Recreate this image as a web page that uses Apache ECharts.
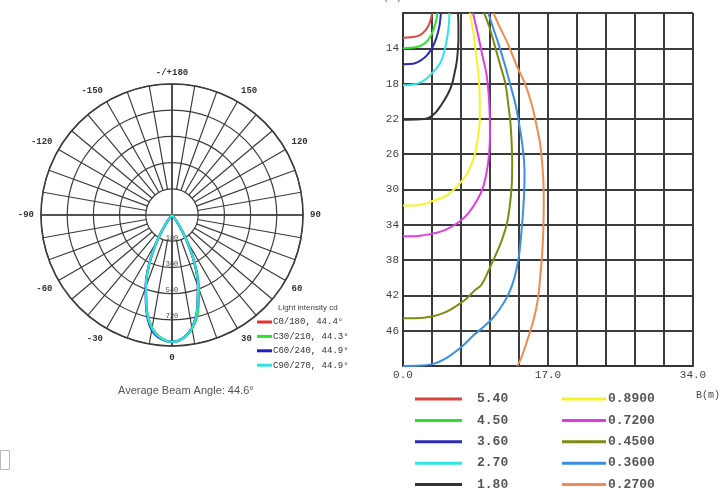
<!DOCTYPE html>
<html><head><meta charset="utf-8">
<script src="https://cdn.jsdelivr.net/npm/echarts@6/dist/echarts.min.js"></script>
<style>html,body{margin:0;padding:0;background:#fff}#c{width:725px;height:495px}</style>
</head><body><div id="c"></div>
<script>
// ---------- Polar (light intensity, cd) ----------
const polarAngles = [315,320,325,330,335,340,345,350,355,0,5,10,15,20,25,30,35,40,45];
const polarNames = ['C0/180, 44.4°','C30/210, 44.3°','C60/240, 44.9°','C90/270, 44.9°'];
const c0_180  = [0,9,70,201,366,523,671,789,850,872,850,789,671,523,366,201,70,9,0];
const c30_210 = [0,8,68,198,362,520,668,786,848,871,852,795,690,545,378,206,72,10,0];
const c60_240 = [0,10,74,207,372,530,680,802,856,872,849,786,668,520,364,200,69,9,0];
const c90_270 = [0,9,70,203,368,525,673,791,851,872,850,789,671,523,366,201,70,9,0];
const radiusMax = 900, radiusStep = 180;

// ---------- Isolux chart ----------
const isoLevels = ['5.40','4.50','3.60','2.70','1.80','0.8900','0.7200','0.4500','0.3600','0.2700'];
const iso540 = [[0,12.8],[1,12.75],[2,12.5],[2.6,12.0],[3.0,11.4],[3.3,10.6],[3.4,10]];
const iso450 = [[0,14.0],[1,13.95],[1.8,13.8],[2.6,13.4],[3.2,12.7],[3.6,11.8],[3.85,11.0],[4.05,10]];
const iso360 = [[0,15.8],[1.4,15.7],[2.2,15.3],[2.8,14.8],[3.4,14.0],[3.75,13.25],[4.1,12.2],[4.3,11.3],[4.45,10]];
const iso270 = [[0,18.2],[1.2,18.1],[2.2,17.8],[3.0,17.2],[3.8,16.4],[4.35,15.7],[4.8,14.5],[5.1,13.25],[5.3,12],[5.4,11],[5.45,10]];
const iso180 = [[0,22.1],[2,22.05],[3.0,21.9],[3.8,21.3],[4.5,20.4],[5.2,19.3],[5.7,18.2],[6.05,16.8],[6.3,15.5],[6.45,14],[6.5,12.9],[6.5,11.5],[6.45,10]];
const iso089 = [[0,31.8],[1.2,31.8],[2.2,31.7],[3.5,31.3],[4.9,30.8],[6.2,29.8],[7.3,28.5],[8.0,27.2],[8.45,25.9],[8.8,24],[9.0,22.1],[9.0,20],[8.85,17],[8.6,15],[8.3,12.5],[7.85,10]];
const iso072 = [[0,35.3],[1.2,35.3],[2.2,35.2],[3.5,35.0],[4.9,34.6],[6.4,33.8],[7.65,32.7],[8.7,31.2],[9.4,29.7],[9.85,27.8],[10.1,25.9],[10.2,23.5],[10.1,20],[9.8,17],[9.3,14.8],[8.8,12.5],[8.2,10]];
const iso045 = [[0,44.6],[1.5,44.6],[3.4,44.4],[5,43.9],[6.1,43.3],[7.4,42.4],[8.45,41.4],[9.2,40.8],[10.4,38.4],[11.1,36.9],[11.6,35.7],[12.15,34.0],[12.5,32],[12.75,29.5],[12.8,27],[12.75,25.0],[12.6,22.5],[12.35,20.4],[12.0,18],[11.4,15.9],[10.7,13.5],[10.1,11.5],[9.5,10]];
const iso036 = [[0,50],[2,49.95],[3.75,49.7],[5.4,48.9],[6.9,47.8],[8.3,46.5],[9.4,45.6],[10.4,44.7],[11.3,43.6],[12.2,42.2],[12.8,40.8],[13.2,39.5],[13.6,37.5],[13.8,35.7],[14.0,33.5],[14.2,30.5],[14.25,28],[14.0,25],[13.6,22.5],[13.2,20.4],[12.6,18.2],[11.95,15.9],[11.2,13.5],[10.5,11.5],[10.0,10]];
const iso027 = [[13.4,50],[13.9,49],[14.6,47],[15.3,44.8],[15.8,42.5],[16.05,40.3],[16.3,37.5],[16.45,34.6],[16.5,31.5],[16.45,28.9],[16.1,25.0],[15.6,22.5],[15.1,20.4],[14.3,18],[13.3,15.9],[12.3,13.5],[11.3,11.5],[10.6,10]];
const xTickLabels = ['0.0','17.0','34.0'];
const yTickLabels = [14,18,22,26,30,34,38,42,46];

const isoData = [iso540,iso450,iso360,iso270,iso180,iso089,iso072,iso045,iso036,iso027];
const isoColors = ['#d9453f','#2fe02f','#2a2ab8','#2ee6e6','#333333','#f4f42a','#e03ce0','#7f8a12','#3b8fe0','#f08a4f'];
const polarColors = ['#e83030','#30e030','#2020c0','#30e0e0'];
const polarValues = [c0_180,c30_210,c60_240,c90_270];

const mono = 'Liberation Mono';
const gridCol = '#3c3c3c';
const chart = echarts.init(document.getElementById('c'), null, {renderer:'canvas'});

const series = [];
polarValues.forEach((vals,k)=>{
  series.push({
    name: polarNames[k], type:'line', coordinateSystem:'polar', polarIndex:1,
    data: vals.map((v,i)=>[v, polarAngles[i]]),
    showSymbol:false, smooth:0.4, color: polarColors[k],
    lineStyle:{width:2.2, color: polarColors[k]}, z:5+k
  });
});
isoData.forEach((d,k)=>{
  series.push({
    name: isoLevels[k], type:'line', xAxisIndex:0, yAxisIndex:0,
    data: d, showSymbol:false, smooth:0.35, color: isoColors[k],
    lineStyle:{width:2, color: isoColors[k]}, z:5, clip:true
  });
});

const option = {
  animation:false,
  backgroundColor:'#fff',
  title:[
    {text:'Average Beam Angle: 44.6°', left:118, top:385, padding:0,
     textStyle:{fontSize:11, fontWeight:'normal', color:'#555', fontFamily:'Liberation Sans'}},
    {text:'Light intensity cd', left:278, top:304, padding:0,
     textStyle:{fontSize:8, fontWeight:'normal', color:'#444', fontFamily:'Liberation Sans'}},
    {text:'B(m)', left:696, top:390, padding:0,
     textStyle:{fontSize:10, fontWeight:'normal', color:'#444', fontFamily:mono}},
    {text:'H(m)', left:376, top:-8, padding:0,
     textStyle:{fontSize:11, fontWeight:'normal', color:'#666', fontFamily:mono}}
  ],
  legend:[
    {data: polarNames, orient:'vertical', left:257, top:317, padding:0,
     itemWidth:15, itemHeight:3, icon:'rect', itemGap:4.4, selectedMode:false,
     textStyle:{fontSize:9, lineHeight:10, fontFamily:mono, color:'#333', padding:[0,0,0,-4]}},
    {data: isoLevels.slice(0,5), orient:'vertical', left:415, top:392, padding:0,
     itemWidth:47, itemHeight:3, icon:'rect', itemGap:7.4, selectedMode:false,
     textStyle:{fontSize:13, lineHeight:14, fontFamily:mono, fontWeight:'bold', color:'#555', padding:[0,0,0,10]}},
    {data: isoLevels.slice(5), orient:'vertical', left:562, top:392, padding:0,
     itemWidth:44, itemHeight:3, icon:'rect', itemGap:7.4, selectedMode:false,
     textStyle:{fontSize:13, lineHeight:14, fontFamily:mono, fontWeight:'bold', color:'#555', padding:[0,0,0,-3]}}
  ],
  polar:[
    {center:[172,215], radius:[26,131]},
    {center:[172,215], radius:131}
  ],
  angleAxis:[
    {polarIndex:0, type:'value', min:0, max:360, interval:10, startAngle:270, clockwise:false,
     axisLine:{show:false}, axisTick:{show:false},
     axisLabel:{show:true, margin:7, fontFamily:mono, fontSize:9, fontWeight:'bold', color:'#333',
       formatter:(v)=>{ if (v%30!==0) return ''; if (v===180) return '-/+180'; return v>180? String(v-360): String(v); }},
     splitLine:{show:true, lineStyle:{color:gridCol, width:1.2}}},
    {polarIndex:1, type:'value', min:0, max:360, interval:90, startAngle:270, clockwise:false,
     axisLine:{show:true, lineStyle:{color:gridCol, width:1.5}}, axisTick:{show:false},
     axisLabel:{show:false},
     splitLine:{show:true, lineStyle:{color:gridCol, width:1.6}}}
  ],
  radiusAxis:[
    {polarIndex:0, type:'value', min:0, max:1, show:false},
    {polarIndex:1, type:'value', min:0, max:radiusMax, interval:radiusStep,
     axisLine:{show:false}, axisTick:{show:false},
     axisLabel:{show:true, margin:0, align:'center', verticalAlign:'bottom', fontSize:7, color:'#444', fontFamily:mono,
       formatter:(v)=> (v===0||v===radiusMax)?'':String(v)},
     splitLine:{show:true, lineStyle:{color:gridCol, width:1.2}}}
  ],
  grid:{left:403, top:13, width:290, height:353, containLabel:false},
  xAxis:{type:'value', min:0, max:34, interval:3.4,
    axisLine:{show:true, lineStyle:{color:'#333', width:2}}, axisTick:{show:false},
    axisLabel:{margin:4, fontFamily:mono, fontSize:11, color:'#444', showMinLabel:true, showMaxLabel:true,
      formatter:(v)=>{ const t=Math.round(v*10); if(t===0) return xTickLabels[0]; if(t===170) return xTickLabels[1]; if(t===340) return xTickLabels[2]; return ''; }},
    splitLine:{show:true, lineStyle:{color:gridCol, width:2}}},
  yAxis:{type:'value', inverse:true, min:10, max:50, interval:4,
    axisLine:{show:true, lineStyle:{color:'#333', width:2}}, axisTick:{show:false},
    axisLabel:{margin:4, fontFamily:mono, fontSize:11, color:'#444', padding:[0,0,8,0],
      formatter:(v)=> yTickLabels.indexOf(Math.round(v))>=0 ? String(Math.round(v)) : ''},
    splitLine:{show:true, lineStyle:{color:gridCol, width:2}}},
  graphic:[
    {type:'rect', left:0, top:450, shape:{width:9, height:19}, style:{fill:'#fff', stroke:'#bbb', lineWidth:1}}
  ],
  series: series
};
chart.setOption(option);
</script></body></html>
